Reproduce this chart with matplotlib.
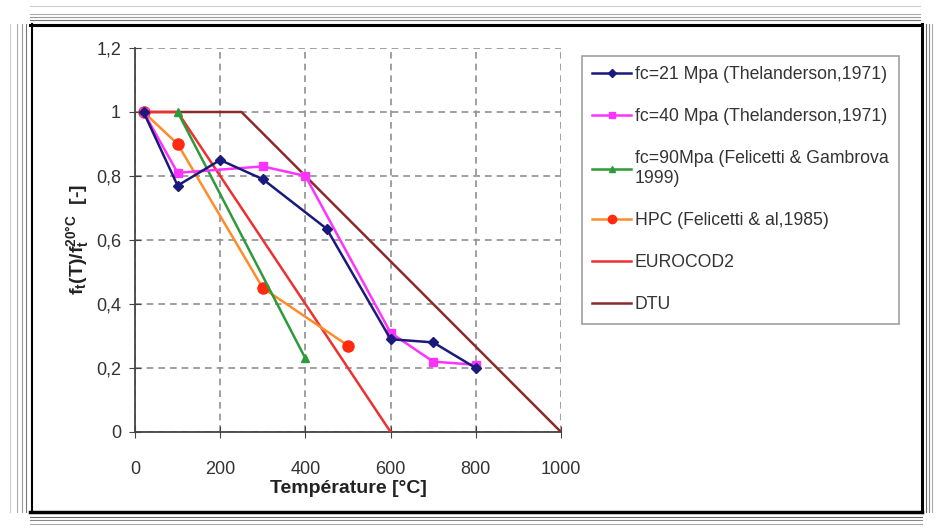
import matplotlib
matplotlib.use("Agg")
import matplotlib.pyplot as plt
from matplotlib.ticker import FuncFormatter, MultipleLocator
from matplotlib.lines import Line2D

plt.rcParams['font.family'] = ['Liberation Sans', 'DejaVu Sans']
plt.rcParams['mathtext.fontset'] = 'custom'
plt.rcParams['mathtext.rm'] = 'Liberation Sans'
plt.rcParams['mathtext.bf'] = 'Liberation Sans:bold'
plt.rcParams['mathtext.it'] = 'Liberation Sans:italic'

# Data
t21 = [20, 100, 200, 300, 450, 600, 700, 800]
v21 = [1.0, 0.77, 0.85, 0.79, 0.635, 0.29, 0.28, 0.2]
t40 = [20, 100, 300, 400, 600, 700, 800]
v40 = [1.0, 0.81, 0.83, 0.80, 0.31, 0.22, 0.21]
t90 = [100, 400]
v90 = [1.0, 0.23]
thpc = [20, 100, 300, 500]
vhpc = [1.0, 0.9, 0.45, 0.27]
tec2 = [20, 100, 600]
vec2 = [1.0, 1.0, 0.0]
tdtu = [20, 250, 1000]
vdtu = [1.0, 1.0, 0.0]

labels = ["fc=21 Mpa (Thelanderson,1971)",
          "fc=40 Mpa (Thelanderson,1971)",
          "fc=90Mpa (Felicetti & Gambrova\n1999)",
          "HPC (Felicetti & al,1985)",
          "EUROCOD2",
          "DTU"]

W, H = 936, 532
fig = plt.figure(figsize=(W / 100, H / 100), dpi=100)
ax = fig.add_axes([135 / W, (H - 432) / H, (561 - 135) / W, (432 - 48) / H])

c21, c40, c90, chpc_l, chpc_m, cec, cdtu = '#1a1a7a', '#ff33ff', '#2e9a3a', '#ff8c2a', '#ff2a10', '#ee3030', '#8b2a2a'
lw = 1.8
ax.plot(tdtu, vdtu, color=cdtu, lw=lw, zorder=3)
ax.plot(tec2, vec2, color=cec, lw=lw, zorder=3)
ax.plot(thpc, vhpc, color=chpc_l, lw=lw, marker='o', ms=8, mfc=chpc_m, mec=chpc_m, zorder=4)
ax.plot(t90, v90, color=c90, lw=lw, marker='^', ms=6, zorder=4)
ax.plot(t40, v40, color=c40, lw=lw, marker='s', ms=6, zorder=5)
ax.plot(t21, v21, color=c21, lw=lw, marker='D', ms=5, zorder=6)

ax.set_xlim(0, 1000)
ax.set_ylim(0, 1.2)
ax.xaxis.set_major_locator(MultipleLocator(200))
ax.yaxis.set_major_locator(MultipleLocator(0.2))
ax.yaxis.set_major_formatter(FuncFormatter(lambda v, p: ('%g' % round(v, 1)).replace('.', ',')))
ax.grid(True, color='#909090', ls=(0, (4, 3)), lw=1.2)
for s in ['top', 'right']:
    ax.spines[s].set_visible(False)
for s in ['left', 'bottom']:
    ax.spines[s].set_color('#444444')
    ax.spines[s].set_linewidth(1.3)
ax.tick_params(direction='inout', length=8, color='#444444', labelsize=13, labelcolor='#333333', pad=6)
ax.tick_params(axis='x', pad=17)
ax.set_xlabel('Température [°C]', fontsize=14, fontweight='bold', color='#222222', labelpad=1)
ax.set_ylabel(r'$\mathbf{f_t(T)/f_t^{20°C}}$  [-]', fontsize=14, fontweight='bold', color='#222222', labelpad=3)

handles = [
    Line2D([], [], color=c21, lw=lw, marker='D', ms=4),
    Line2D([], [], color=c40, lw=lw, marker='s', ms=5),
    Line2D([], [], color=c90, lw=lw, marker='^', ms=5),
    Line2D([], [], color=chpc_l, lw=lw, marker='o', ms=6, mfc=chpc_m, mec=chpc_m),
    Line2D([], [], color=cec, lw=lw),
    Line2D([], [], color=cdtu, lw=lw),
]
leg = fig.legend(handles, labels, loc='upper left', bbox_to_anchor=(573 / W, 1 - 47 / H),
                 frameon=True, fancybox=False, edgecolor='#888888', fontsize=12.7,
                 labelspacing=1.42, handlelength=2.2, handletextpad=0.2, borderpad=0.6,
                 labelcolor='#333333')
leg.get_frame().set_linewidth(1.2)

# decorative frame
def hline(y, x0, x1, c, w):
    fig.add_artist(Line2D([x0 / W, x1 / W], [1 - y / H, 1 - y / H], color=c, lw=w))
def vline(x, y0, y1, c, w):
    fig.add_artist(Line2D([x / W, x / W], [1 - y0 / H, 1 - y1 / H], color=c, lw=w))

for y, c, w in [(6, '#cccccc', 0.8), (14, '#aaaaaa', 0.8), (17, '#999999', 0.8), (20, '#777777', 0.8), (24.5, '#000000', 2.2)]:
    hline(y, 30, 920, c, w)
for y, c, w in [(512, '#000000', 2.5), (517, '#666666', 0.8), (520, '#888888', 0.8), (524, '#aaaaaa', 0.8)]:
    hline(y, 30, 922, c, w)
for x, c, w in [(10, '#cccccc', 0.8), (17, '#aaaaaa', 0.8), (22, '#999999', 0.8), (26, '#777777', 0.8), (32, '#000000', 1.5)]:
    vline(x, 24, 512, c, w)
for x, c, w in [(922, '#000000', 2.2), (926, '#666666', 0.8), (929, '#888888', 0.8), (932, '#aaaaaa', 0.8)]:
    vline(x, 24, 512, c, w)

fig.savefig('out.png', dpi=100)
